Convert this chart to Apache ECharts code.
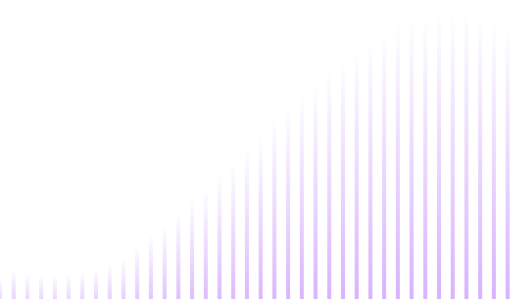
<!DOCTYPE html>
<html>
<head>
<meta charset="utf-8">
<script src="https://cdn.jsdelivr.net/npm/echarts@6/dist/echarts.min.js"></script>
<style>html,body{margin:0;padding:0;background:#fff;}#c{width:510px;height:299px;}</style>
</head>
<body>
<div id="c"></div>
<script>
var categories = [];
for (var k = 1; k <= 38; k++) categories.push('C' + k);
var values = [22, 31, 26, 25, 25, 25, 28, 31, 36, 41, 55, 66, 75, 90, 102, 113, 128, 140, 155, 168,
  186, 196, 209, 222, 235, 246, 256, 265, 274, 283, 289, 290, 294, 294, 296, 292, 284, 278];
var yMax = 305;

var chart = echarts.init(document.getElementById('c'), null, {renderer: 'canvas'});
var plotH = 299;
var items = values.map(function (v) {
  var h = v * plotH / yMax;
  var a = 0.69 * h / (h + 30);
  return {
    value: v,
    itemStyle: {
      color: new echarts.graphic.LinearGradient(0, 0, 0, 1, [
        {offset: 0, color: 'rgba(192,132,252,0)'},
        {offset: 1, color: 'rgba(192,132,252,' + a.toFixed(3) + ')'}
      ])
    }
  };
});
chart.setOption({
  animation: false,
  backgroundColor: '#ffffff',
  grid: {left: 0, right: 2.4, top: 0, bottom: 0, containLabel: false},
  xAxis: {type: 'category', data: categories, show: false, boundaryGap: false},
  yAxis: {type: 'value', min: 0, max: yMax, show: false},
  series: [{
    type: 'bar',
    data: items,
    barWidth: 4,
    clip: false
  }]
});
</script>
</body>
</html>
